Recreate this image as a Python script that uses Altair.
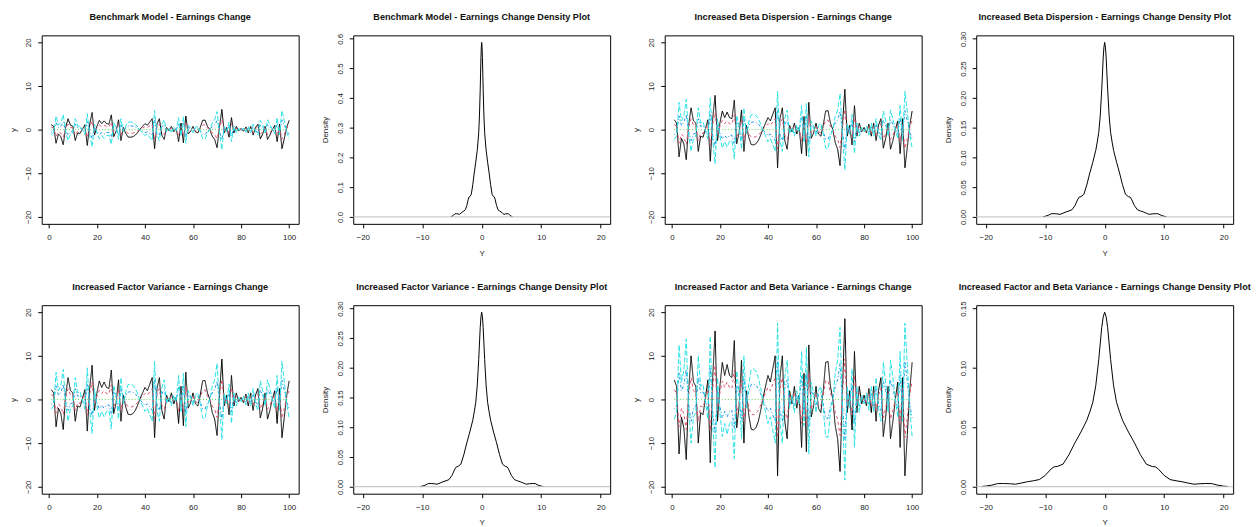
import altair as alt
import pandas as pd

# ---------------- data ----------------
t_index = list(range(1, 101))

# black (beta = 1) path read from the "Increased Factor and Beta Variance" panel
factor_path = [
    4.5, 3.0, -12.5, -4.0, -6.5, -13.8, 2.0, 10.0, 4.0, 3.0,
    -10.0, -3.0, -3.5, 0.5, 4.5, -14.5, 5.0, 15.7, -5.0, 3.0,
    8.5, 5.5, 8.0, 5.5, 5.0, 13.5, -6.5, -1.5, 9.0, -10.0,
    2.0, -3.5, -6.8, -7.0, -6.5, -5.0, -2.5, 0.5, 3.0, 5.5,
    4.0, 7.0, 10.0, -17.5, 5.0, 10.0, -5.0, -9.0, 2.0, -1.0,
    3.0, -2.0, 1.0, -11.0, 6.0, -12.0, 12.5, -4.0, -1.5, 3.0,
    -2.0, -3.0, 2.0, 8.5, 8.7, 3.0, 0.0, -6.0, -9.0, -16.5,
    2.0, 18.5, -3.0, 2.0, -7.0, 11.0, -3.0, 3.0, -1.0, 1.0,
    -1.5, 2.5, -3.0, 3.0, -5.0, 2.0, 5.0, -8.5, -4.0, 3.0,
    -9.0, -5.0, 0.0, 4.0, -11.0, 5.0, -17.5, -8.0, 2.0, 8.5,
]
betas = [1.0, 0.5, 0.0, -0.5, -1.0]
series_colors = ["#000000", "#DF536B", "#61D04F", "#2297E6", "#28E2E5"]
series_dash = [[1, 0], [3, 3], [1, 2], [1, 2, 3, 2], [5, 2]]

panel_names = [
    "Benchmark Model",
    "Increased Beta Dispersion",
    "Increased Factor Variance",
    "Increased Factor and Beta Variance",
]
panel_scale = [0.25, 0.5, 0.5, 1.0]

# density curve read from the "Increased Factor and Beta Variance" density panel
dens_x = [-20.7, -20, -19, -18, -17, -16, -15, -14, -13, -12, -11, -10, -9, -8.5, -8,
          -7, -6, -5, -4, -3, -2.5, -2, -1.5, -1, -0.5, -0.25, 0,
          0.25, 0.5, 1, 1.5, 2, 2.5, 3, 4, 5, 6, 7, 8, 8.5, 9, 10, 11, 12, 13, 14,
          15, 16, 17, 18, 19, 20, 20.7]
dens_y = [0.0002, 0.0005, 0.0013, 0.0026, 0.0027, 0.0025, 0.0021, 0.0031, 0.0042, 0.0050,
          0.0060, 0.0095, 0.0150, 0.0168, 0.0170, 0.0190, 0.0270, 0.0370, 0.0460, 0.0560,
          0.0630, 0.0710, 0.0850, 0.1070, 0.1340, 0.1430, 0.1470,
          0.1430, 0.1340, 0.1070, 0.0850, 0.0710, 0.0630, 0.0560, 0.0460, 0.0370, 0.0270,
          0.0190, 0.0170, 0.0168, 0.0150, 0.0095, 0.0060, 0.0050, 0.0042, 0.0031, 0.0021,
          0.0025, 0.0027, 0.0026, 0.0013, 0.0005, 0.0002]

density_ticks = [
    [0.0, 0.1, 0.2, 0.3, 0.4, 0.5, 0.6],
    [0.0, 0.05, 0.1, 0.15, 0.2, 0.25, 0.3],
    [0.0, 0.05, 0.1, 0.15, 0.2, 0.25, 0.3],
    [0.0, 0.05, 0.1, 0.15],
]
density_fmt = [".1f", ".2f", ".2f", ".2f"]
# the rotated top tick label sticks out above the frame; compensate the title offset
density_title_offset = [11, 9, 9, 9]
ts_title_offset = 13

W, H = 259, 190


def ts_panel(name, scale):
    layers = []
    for beta, col, dash in zip(betas, series_colors, series_dash):
        df = pd.DataFrame({"t": t_index, "y": [beta * scale * v for v in factor_path]})
        layers.append(
            alt.Chart(df).mark_line(color=col, strokeDash=dash, strokeWidth=1).encode(
                x=alt.X("t:Q", scale=alt.Scale(domain=[-2.96, 103.96], nice=False, zero=False),
                        axis=alt.Axis(values=[0, 20, 40, 60, 80, 100], title=None)),
                y=alt.Y("y:Q", scale=alt.Scale(domain=[-21.6, 21.6], nice=False, zero=False),
                        axis=alt.Axis(values=[-20, -10, 0, 10, 20], title="y")),
            )
        )
    return alt.layer(*layers).properties(
        width=W, height=H,
        title=alt.TitleParams(name + " - Earnings Change", offset=ts_title_offset))


def dens_panel(name, scale, ticks, fmt, toff):
    df = pd.DataFrame({"x": [v * scale for v in dens_x], "d": [v / scale for v in dens_y]})
    top = max(df["d"])
    dom = [-0.04 * top, 1.04 * top]
    yaxis = alt.Axis(values=ticks, format=fmt, title="Density")
    zero = pd.DataFrame({"z": [0.0]})
    line = alt.Chart(df).mark_line(color="#000000", strokeWidth=1).encode(
        x=alt.X("x:Q", scale=alt.Scale(domain=[-21.6, 21.6], nice=False, zero=False),
                axis=alt.Axis(values=[-20, -10, 0, 10, 20], title="Y")),
        y=alt.Y("d:Q", scale=alt.Scale(domain=dom, nice=False, zero=False), axis=yaxis),
    )
    rule = alt.Chart(zero).mark_rule(color="#BEBEBE", strokeWidth=1).encode(
        y=alt.Y("z:Q", scale=alt.Scale(domain=dom, nice=False, zero=False), axis=yaxis))
    return alt.layer(line, rule).properties(
        width=W, height=H,
        title=alt.TitleParams(name + " - Earnings Change Density Plot", offset=toff))


panels = []
for i, name in enumerate(panel_names):
    panels.append(ts_panel(name, panel_scale[i]))
    panels.append(dens_panel(name, panel_scale[i], density_ticks[i], density_fmt[i],
                             density_title_offset[i]))

row1 = alt.hconcat(*panels[0:4], spacing=21)
row2 = alt.hconcat(*panels[4:8], spacing=21)

chart = alt.vconcat(row1, row2, spacing=24).properties(
    padding={"left": 1, "top": 1.5, "right": 0, "bottom": 0}
).configure_view(
    stroke="#000000", strokeWidth=1
).configure_axis(
    grid=False, domain=False, tickColor="#000000", tickSize=4, labelOverlap=False,
    labelFont="Liberation Sans", labelFontSize=8, labelColor="#222222", labelPadding=6,
    titleFont="Liberation Sans", titleFontSize=8, titleFontWeight="normal",
    titleColor="#222222", titlePadding=7.5,
).configure_axisY(
    labelAngle=-90, labelAlign="center", labelBaseline="bottom", labelPadding=5,
    titlePadding=7
).configure_title(
    font="Liberation Sans", fontSize=9.2, fontWeight="bold", color="#111111",
    anchor="middle"
).configure_concat(spacing=21)

chart.save("out.html", embed_options={"renderer": "svg", "actions": False})
